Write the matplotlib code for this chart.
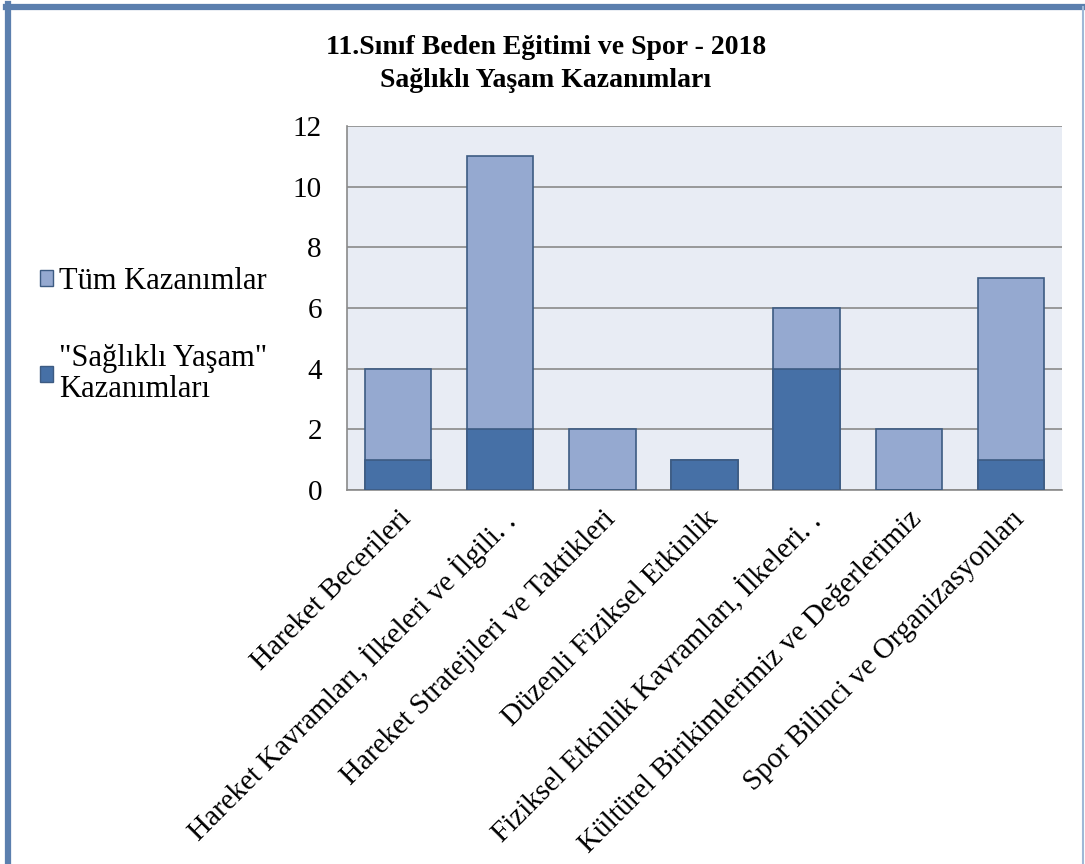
import matplotlib
matplotlib.use("Agg")
import matplotlib.pyplot as plt
from matplotlib.patches import Patch
from matplotlib.lines import Line2D
import matplotlib.transforms as mtransforms

categories = [
    "Hareket Becerileri",
    "Hareket Kavramları, İlkeleri ve İlgili. .",
    "Hareket Stratejileri ve Taktikleri",
    "Düzenli Fiziksel Etkinlik",
    "Fiziksel Etkinlik Kavramları, İlkeleri. .",
    "Kültürel Birikimlerimiz ve Değerlerimiz",
    "Spor Bilinci ve Organizasyonları",
]
tum_kazanimlar = [4, 11, 2, 1, 6, 2, 7]
saglikli_yasam = [1, 2, 0, 1, 4, 0, 1]
y_ticks = [0, 2, 4, 6, 8, 10, 12]

title_text = "11.Sınıf Beden Eğitimi ve Spor - 2018\nSağlıklı Yaşam Kazanımları"
legend_labels = ["Tüm Kazanımlar", "\"Sağlıklı Yaşam\"\nKazanımları"]

plt.rcParams['font.family'] = ['Liberation Serif', 'DejaVu Serif']

W, H = 1085, 864
fig = plt.figure(figsize=(W / 100, H / 100), dpi=100)
fig.patch.set_facecolor('white')

ax = fig.add_axes([347 / W, 1 - 490 / H, (1062 - 347) / W, (490 - 126) / H])
ax.set_facecolor('#e8ecf4')

light = '#95a9d0'
dark = '#4670a6'
edge = '#3d5b82'

x = list(range(len(categories)))
ax.bar(x, tum_kazanimlar, width=0.65, color=light, edgecolor=edge, linewidth=1.2, zorder=3)
ax.bar(x, saglikli_yasam, width=0.65, color=dark, edgecolor=edge, linewidth=1.2, zorder=4)

ax.set_xlim(-0.5, len(categories) - 0.5)
ax.set_ylim(0, 12)
ax.set_yticks(y_ticks)
ax.set_yticklabels([str(v) for v in y_ticks], fontsize=21)
ax.yaxis.grid(True, color='#8a8a8a', linewidth=1.2, zorder=1)
ax.set_axisbelow(True)
ax.tick_params(axis='y', length=0, pad=18)
ax.tick_params(axis='x', length=0)

for s in ['top', 'right']:
    ax.spines[s].set_visible(False)
ax.spines['left'].set_color('#8a8a8a')
ax.spines['bottom'].set_color('#8a8a8a')
ax.spines['left'].set_linewidth(1.2)
ax.spines['bottom'].set_linewidth(1.2)

ax.set_xticks(x)
ax.set_xticklabels(categories, rotation=45, ha='right', va='top',
                   rotation_mode='anchor', fontsize=21)
for lbl in ax.get_xticklabels():
    lbl.set_transform(lbl.get_transform() + mtransforms.ScaledTranslation(0 / 100, -11 / 100, fig.dpi_scale_trans))

fig.text(546 / W, 1 - 64 / H, title_text, ha='center', va='center', fontsize=20,
         fontweight='bold', linespacing=1.45)

handles = [Patch(facecolor=light, edgecolor=edge, linewidth=1.0),
           Patch(facecolor=dark, edgecolor=edge, linewidth=1.0)]
leg = fig.legend(handles, legend_labels, loc='upper left',
                 bbox_to_anchor=(28 / W, 1 - 255 / H), frameon=False, fontsize=22,
                 handlelength=0.42, handleheight=0.42, handletextpad=0.2,
                 labelspacing=1.55, borderaxespad=0)
for t in leg.get_texts():
    t.set_linespacing(1.12)

# outer frame
fig.add_artist(Line2D([8 / W, 8 / W], [0, 1 - 4 / H], transform=fig.transFigure,
                      color='#5b7fae', linewidth=4.5))
fig.add_artist(Line2D([6 / W, 1 - 2 / W], [1 - 7 / H, 1 - 7 / H], transform=fig.transFigure,
                      color='#5b7fae', linewidth=4.5))
fig.add_artist(Line2D([1 - 2 / W, 1 - 2 / W], [0, 1 - 7 / H], transform=fig.transFigure,
                      color='#9fb8d6', linewidth=1.5))

fig.savefig("out.png", dpi=100)
